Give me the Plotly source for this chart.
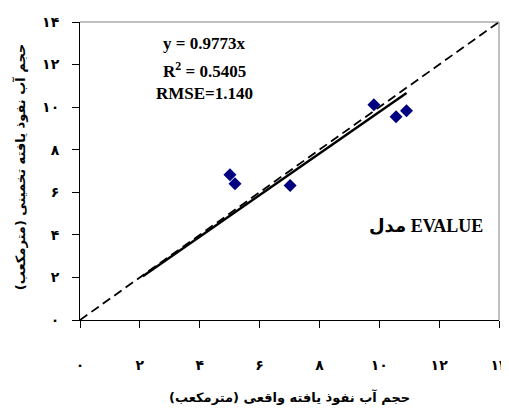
import plotly.graph_objects as go

# measured (x) vs estimated (y) infiltrated water volume, m3
measured = [5.01, 5.18, 7.02, 9.82, 10.56, 10.91]
estimated = [6.82, 6.40, 6.32, 10.11, 9.55, 9.83]

# trendline y = 0.9773x, drawn over the span shown in the chart
slope = 0.9773
trend_x = [2.1, 10.91]
trend_y = [slope * v for v in trend_x]

# 1:1 line
ref_x = [0, 14]
ref_y = [0, 14]

tick_vals = [0, 2, 4, 6, 8, 10, 12, 14]
tick_text = ['۰', '۲', '۴', '۶', '۸', '۱۰', '۱۲', '۱۴']

x_title = 'حجم آب نفوذ یافته واقعی (مترمکعب)'
y_title = 'حجم آب نفوذ یافته تخمینی (مترمکعب)'

fig = go.Figure()

fig.add_trace(go.Scatter(
    x=ref_x, y=ref_y, mode='lines',
    line=dict(color='black', width=1.8, dash='9px,5px'),
    hoverinfo='skip'
))

fig.add_trace(go.Scatter(
    x=trend_x, y=trend_y, mode='lines',
    line=dict(color='black', width=2.5)
))

fig.add_trace(go.Scatter(
    x=measured, y=estimated, mode='markers',
    marker=dict(symbol='diamond', size=10, color='#000080')
))

axis_font = dict(family='DejaVu Sans', size=14, color='black', weight='bold')

# the page body adds an 8px offset, so the figure is sized to fit the window after it
fig.update_layout(
    width=501, height=402,
    margin=dict(l=72, r=10, t=14, b=90, autoexpand=False),
    plot_bgcolor='white', paper_bgcolor='white',
    showlegend=False,
    xaxis=dict(
        range=[0, 14], tickvals=tick_vals, ticktext=tick_text,
        showgrid=False, zeroline=False, automargin=False,
        showline=True, linecolor='black', linewidth=1,
        ticks='outside', ticklen=7, tickcolor='black',
        tickfont=axis_font, ticklabelstandoff=25, ticklabeloverflow='allow'
    ),
    yaxis=dict(
        range=[0, 14], tickvals=tick_vals, ticktext=tick_text,
        showgrid=False, zeroline=False, automargin=False,
        showline=True, linecolor='black', linewidth=1,
        ticks='outside', ticklen=7, tickcolor='black',
        tickfont=axis_font, ticklabelstandoff=10, ticklabeloverflow='allow'
    ),
    shapes=[
        dict(type='line', xref='paper', yref='paper', x0=0, x1=1, y0=1, y1=1,
             line=dict(color='#808080', width=1)),
        dict(type='line', xref='paper', yref='paper', x0=1, x1=1, y0=0, y1=1,
             line=dict(color='#808080', width=1)),
    ],
)

serif = dict(family='Liberation Serif', size=17, color='black')

for txt, yy in [('<b>y = 0.9773x</b>', 0.928),
                ('<b>R<sup>2</sup> = 0.5405</b>', 0.838),
                ('<b>RMSE=1.140</b>', 0.761)]:
    fig.add_annotation(x=0.296, y=yy, xref='paper', yref='paper', text=txt,
                       xanchor='center', yanchor='middle', showarrow=False, font=serif)

fig.add_annotation(x=0.826, y=0.315, xref='paper', yref='paper', text='<b>مدل EVALUE</b>',
                   xanchor='center', yanchor='middle', showarrow=False,
                   font=dict(family='Liberation Serif, DejaVu Sans', size=18, color='black'))

fig.add_annotation(x=0.5, y=-0.258, xref='paper', yref='paper', text='<b>' + x_title + '</b>',
                   xanchor='center', yanchor='middle', showarrow=False,
                   font=dict(family='DejaVu Sans', size=13, color='black'))
fig.add_annotation(x=-0.143, y=0.513, xref='paper', yref='paper', text='<b>' + y_title + '</b>',
                   xanchor='center', yanchor='middle', textangle=-90, showarrow=False,
                   font=dict(family='DejaVu Sans', size=13, color='black'))

fig.write_html("out.html")
